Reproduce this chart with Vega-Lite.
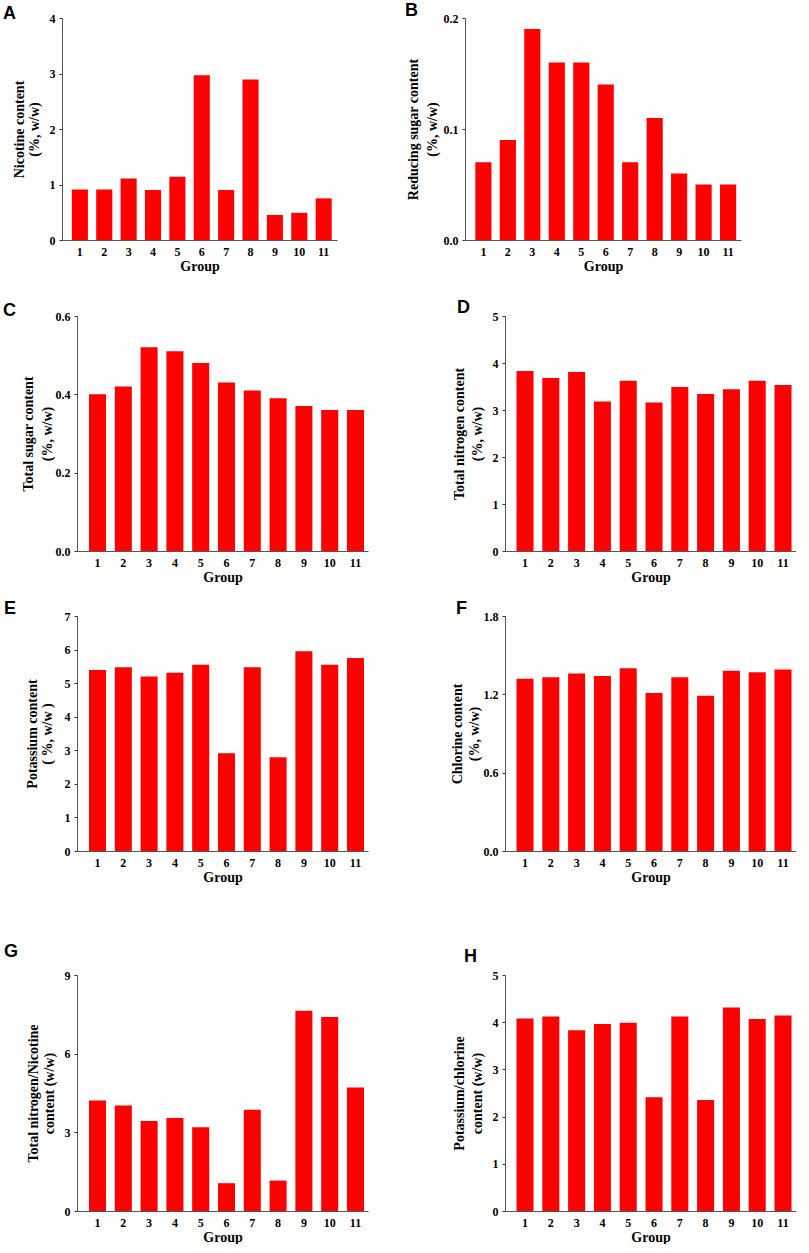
{
  "$schema": "https://vega.github.io/schema/vega-lite/v6.json",
  "background": "white",
  "padding": {"left": 3, "top": 2, "right": 0, "bottom": 0},
  "bounds": "flush",
  "columns": 2,
  "spacing": {"row": 60, "column": 97},
  "datasets": {
    "nicotine": [
      {"group": 1, "value": 0.91}, {"group": 2, "value": 0.91}, {"group": 3, "value": 1.11},
      {"group": 4, "value": 0.90}, {"group": 5, "value": 1.14}, {"group": 6, "value": 2.97},
      {"group": 7, "value": 0.90}, {"group": 8, "value": 2.89}, {"group": 9, "value": 0.45},
      {"group": 10, "value": 0.49}, {"group": 11, "value": 0.75}
    ],
    "reducing": [
      {"group": 1, "value": 0.07}, {"group": 2, "value": 0.09}, {"group": 3, "value": 0.19},
      {"group": 4, "value": 0.16}, {"group": 5, "value": 0.16}, {"group": 6, "value": 0.14},
      {"group": 7, "value": 0.07}, {"group": 8, "value": 0.11}, {"group": 9, "value": 0.06},
      {"group": 10, "value": 0.05}, {"group": 11, "value": 0.05}
    ],
    "totalsugar": [
      {"group": 1, "value": 0.40}, {"group": 2, "value": 0.42}, {"group": 3, "value": 0.52},
      {"group": 4, "value": 0.51}, {"group": 5, "value": 0.48}, {"group": 6, "value": 0.43},
      {"group": 7, "value": 0.41}, {"group": 8, "value": 0.39}, {"group": 9, "value": 0.37},
      {"group": 10, "value": 0.36}, {"group": 11, "value": 0.36}
    ],
    "nitrogen": [
      {"group": 1, "value": 3.83}, {"group": 2, "value": 3.68}, {"group": 3, "value": 3.81},
      {"group": 4, "value": 3.18}, {"group": 5, "value": 3.62}, {"group": 6, "value": 3.16},
      {"group": 7, "value": 3.49}, {"group": 8, "value": 3.34}, {"group": 9, "value": 3.44},
      {"group": 10, "value": 3.62}, {"group": 11, "value": 3.53}
    ],
    "potassium": [
      {"group": 1, "value": 5.39}, {"group": 2, "value": 5.47}, {"group": 3, "value": 5.20},
      {"group": 4, "value": 5.31}, {"group": 5, "value": 5.55}, {"group": 6, "value": 2.91},
      {"group": 7, "value": 5.47}, {"group": 8, "value": 2.79}, {"group": 9, "value": 5.95},
      {"group": 10, "value": 5.55}, {"group": 11, "value": 5.75}
    ],
    "chlorine": [
      {"group": 1, "value": 1.32}, {"group": 2, "value": 1.33}, {"group": 3, "value": 1.36},
      {"group": 4, "value": 1.34}, {"group": 5, "value": 1.40}, {"group": 6, "value": 1.21},
      {"group": 7, "value": 1.33}, {"group": 8, "value": 1.19}, {"group": 9, "value": 1.38},
      {"group": 10, "value": 1.37}, {"group": 11, "value": 1.39}
    ],
    "n_nic": [
      {"group": 1, "value": 4.21}, {"group": 2, "value": 4.02}, {"group": 3, "value": 3.43},
      {"group": 4, "value": 3.55}, {"group": 5, "value": 3.19}, {"group": 6, "value": 1.06},
      {"group": 7, "value": 3.86}, {"group": 8, "value": 1.16}, {"group": 9, "value": 7.64},
      {"group": 10, "value": 7.40}, {"group": 11, "value": 4.71}
    ],
    "k_cl": [
      {"group": 1, "value": 4.08}, {"group": 2, "value": 4.12}, {"group": 3, "value": 3.83},
      {"group": 4, "value": 3.96}, {"group": 5, "value": 3.99}, {"group": 6, "value": 2.41},
      {"group": 7, "value": 4.12}, {"group": 8, "value": 2.35}, {"group": 9, "value": 4.31},
      {"group": 10, "value": 4.07}, {"group": 11, "value": 4.14}
    ]
  },
  "concat": [
    {
      "data": {"name": "nicotine"},
      "width": 275, "height": 222,
      "title": {"text": "A", "dx": -59, "dy": 15},
      "mark": {"type": "bar", "color": "#ff0000"},
      "encoding": {
        "x": {"field": "group", "type": "ordinal", "title": "Group",
              "scale": {"paddingInner": 0.34, "paddingOuter": 0.31, "align": 0.65}},
        "y": {"field": "value", "type": "quantitative", "title": ["Nicotine content", "(%, w/w)"],
              "scale": {"domain": [0, 4]},
              "axis": {"values": [0, 1, 2, 3, 4], "titleLineHeight": 15}}
      }
    },
    {
      "data": {"name": "reducing"},
      "width": 276, "height": 222,
      "title": {"text": "B", "dx": -60, "dy": 12},
      "mark": {"type": "bar", "color": "#ff0000"},
      "encoding": {
        "x": {"field": "group", "type": "ordinal", "title": "Group",
              "scale": {"paddingInner": 0.34, "paddingOuter": 0.31, "align": 0.68}},
        "y": {"field": "value", "type": "quantitative", "title": ["Reducing sugar content", "(%, w/w)"],
              "scale": {"domain": [0, 0.2]},
              "axis": {"values": [0, 0.1, 0.2], "format": ".1f", "titleLineHeight": 19, "titlePadding": 4}}
      }
    },
    {
      "data": {"name": "totalsugar"},
      "width": 306, "height": 251,
      "title": {"text": "C", "dx": -59, "dy": 24},
      "mark": {"type": "bar", "color": "#ff0000"},
      "encoding": {
        "x": {"field": "group", "type": "ordinal", "title": "Group",
              "scale": {"rangeMin": 15, "paddingInner": 0.34, "paddingOuter": 0.31, "align": 0.75}},
        "y": {"field": "value", "type": "quantitative", "title": ["Total sugar content", "(%, w/w)"],
              "scale": {"domain": [0, 0.6], "rangeMax": 16},
              "axis": {"values": [0, 0.2, 0.4, 0.6], "format": ".1f", "offset": -15, "titleLineHeight": 19, "titlePadding": 1}}
      }
    },
    {
      "data": {"name": "nitrogen"},
      "width": 331, "height": 251,
      "title": {"text": "D", "dx": -8, "dy": 21},
      "mark": {"type": "bar", "color": "#ff0000"},
      "encoding": {
        "x": {"field": "group", "type": "ordinal", "title": "Group",
              "scale": {"rangeMin": 40, "paddingInner": 0.34, "paddingOuter": 0.31, "align": 0.72}},
        "y": {"field": "value", "type": "quantitative", "title": ["Total nitrogen content", "(%, w/w)"],
              "scale": {"domain": [0, 5], "rangeMax": 16},
              "axis": {"values": [0, 1, 2, 3, 4, 5], "offset": -40, "titleLineHeight": 18}}
      }
    },
    {
      "data": {"name": "potassium"},
      "width": 306, "height": 240,
      "title": {"text": "E", "dx": -58, "dy": 12},
      "mark": {"type": "bar", "color": "#ff0000"},
      "encoding": {
        "x": {"field": "group", "type": "ordinal", "title": "Group",
              "scale": {"rangeMin": 15, "paddingInner": 0.34, "paddingOuter": 0.31, "align": 0.75}},
        "y": {"field": "value", "type": "quantitative", "title": ["Potassium content", "( %, w/w )"],
              "scale": {"domain": [0, 7], "rangeMax": 5},
              "axis": {"values": [0, 1, 2, 3, 4, 5, 6, 7], "offset": -15, "titleLineHeight": 15, "titlePadding": 10}}
      }
    },
    {
      "data": {"name": "chlorine"},
      "width": 331, "height": 240,
      "title": {"text": "F", "dx": -9, "dy": 12},
      "mark": {"type": "bar", "color": "#ff0000"},
      "encoding": {
        "x": {"field": "group", "type": "ordinal", "title": "Group",
              "scale": {"rangeMin": 40, "paddingInner": 0.34, "paddingOuter": 0.31, "align": 0.72}},
        "y": {"field": "value", "type": "quantitative", "title": ["Chlorine content", "(%, w/w)"],
              "scale": {"domain": [0, 1.8], "rangeMax": 5},
              "axis": {"values": [0, 0.6, 1.2, 1.8], "format": ".1f", "offset": -40, "titleLineHeight": 17, "titlePadding": 2}}
      }
    },
    {
      "data": {"name": "n_nic"},
      "width": 306, "height": 300,
      "title": {"text": "G", "dx": -58, "dy": 54},
      "mark": {"type": "bar", "color": "#ff0000"},
      "encoding": {
        "x": {"field": "group", "type": "ordinal", "title": "Group",
              "scale": {"rangeMin": 15, "paddingInner": 0.34, "paddingOuter": 0.31, "align": 0.75}},
        "y": {"field": "value", "type": "quantitative", "title": ["Total nitrogen/Nicotine", "content (w/w)"],
              "scale": {"domain": [0, 9], "rangeMax": 64},
              "axis": {"values": [0, 3, 6, 9], "offset": -15, "titleLineHeight": 16}}
      }
    },
    {
      "data": {"name": "k_cl"},
      "width": 331, "height": 300,
      "title": {"text": "H", "dx": -1, "dy": 59},
      "mark": {"type": "bar", "color": "#ff0000"},
      "encoding": {
        "x": {"field": "group", "type": "ordinal", "title": "Group",
              "scale": {"rangeMin": 40, "paddingInner": 0.34, "paddingOuter": 0.31, "align": 0.72}},
        "y": {"field": "value", "type": "quantitative", "title": ["Potassium/chlorine", "content (w/w)"],
              "scale": {"domain": [0, 5], "rangeMax": 64},
              "axis": {"values": [0, 1, 2, 3, 4, 5], "offset": -40, "titleLineHeight": 18}}
      }
    }
  ],
  "config": {
    "view": {"stroke": null},
    "title": {
      "font": "Liberation Sans", "fontSize": 18, "fontWeight": "bold", "color": "black",
      "anchor": "start", "frame": "group", "baseline": "top", "offset": 0
    },
    "axis": {
      "grid": false,
      "zindex": 1,
      "domainColor": "#555555",
      "tickColor": "#333333",
      "labelFont": "Liberation Serif", "labelFontWeight": "bold", "labelFontSize": 12, "labelColor": "black",
      "titleFont": "Liberation Serif", "titleFontWeight": "bold", "titleFontSize": 14, "titleColor": "black"
    },
    "axisX": {"tickSize": -4, "labelAngle": 0, "labelPadding": 10, "titlePadding": 2},
    "axisY": {"tickSize": 3, "labelPadding": 4, "titlePadding": 8}
  }
}
